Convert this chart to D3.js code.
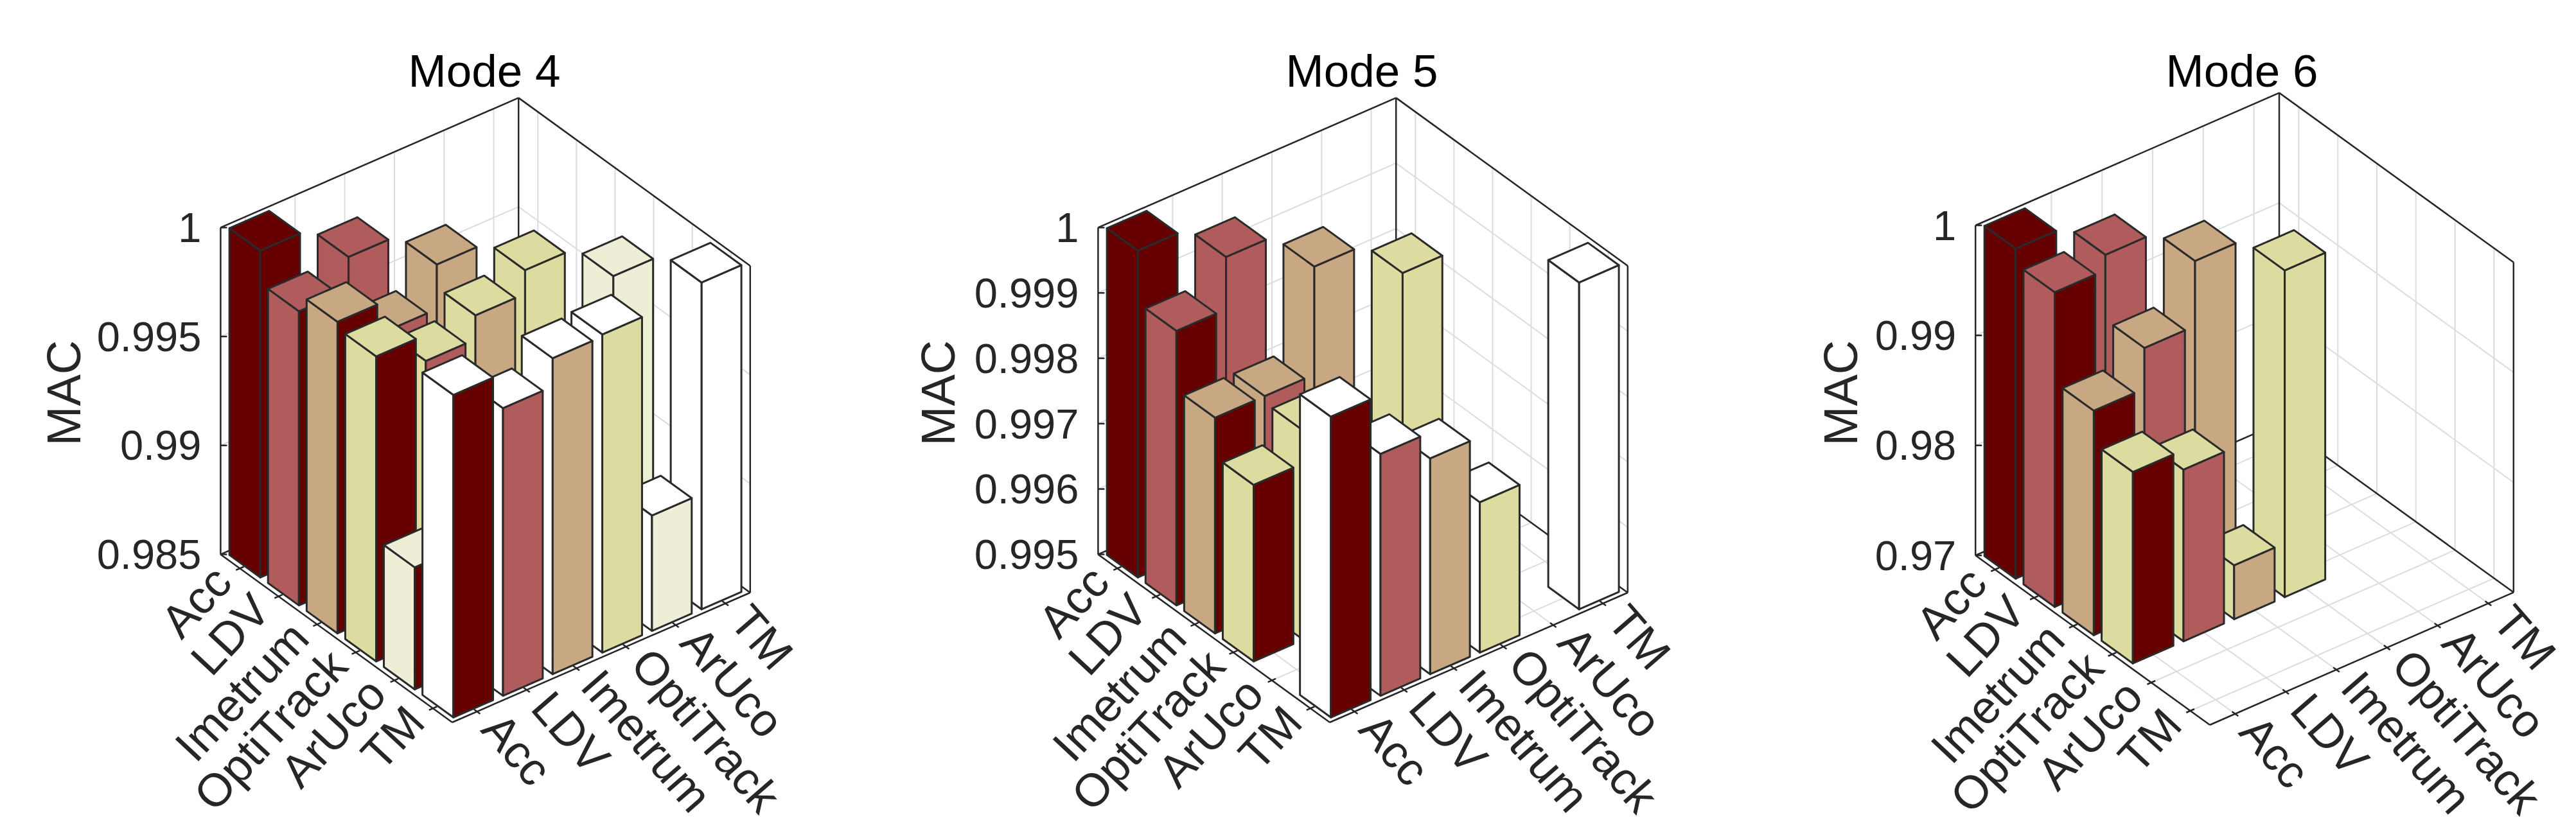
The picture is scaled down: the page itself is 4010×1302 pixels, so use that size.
<!DOCTYPE html>
<html><head><meta charset="utf-8">
<script src="https://cdn.jsdelivr.net/npm/d3@7"></script>
<style>body{margin:0;background:#fff}svg{display:block}text{font-family:"Liberation Sans",Arial,sans-serif;fill:#262626}</style>
</head><body>
<script>
const categories = ["Acc","LDV","Imetrum","OptiTrack","ArUco","TM"];
const titles = ["Mode 4","Mode 5","Mode 6"];
const colors = ["#660000","#b05c5c","#c8a882","#dcdba0","#eeedd6","#ffffff"];
// lower-triangular MAC matrices: rows = left axis, columns = right axis
const mode4 = [
  [1.0000,null,null,null,null,null],
  [0.9985,1.0000,null,null,null,null],
  [0.9993,0.9979,0.99995,null,null,null],
  [0.9990,0.9978,0.9989,0.99998,null,null],
  [0.9906,0.9905,0.9910,0.9908,1.0000,null],
  [0.9998,0.9982,0.9995,0.9996,0.9903,1.0000]];
const mode5 = [
  [1.0000,null,null,null,null,null],
  [0.9992,1.0000,null,null,null,null],
  [0.9983,0.9983,0.99995,null,null,null],
  [0.9977,0.9982,0.9975,0.99995,null,null],
  [null,null,null,null,null,null],
  [0.9996,0.9987,0.9983,0.9973,null,1.0000]];
const mode6 = [
  [1.0000,null,null,null,null,null],
  [0.9986,1.0000,null,null,null,null],
  [0.9904,0.9941,1.0000,null,null,null],
  [0.9874,0.9856,0.9749,0.9997,null,null],
  [null,null,null,null,null,null],
  [null,null,null,null,null,null]];
const zTicks4 = [0.985,0.99,0.995,1];
const zTicks5 = [0.995,0.996,0.997,0.998,0.999,1];
const zTicks6 = [0.97,0.98,0.99,1];
const zTickLabels4 = ["0.985","0.99","0.995","1"];
const zTickLabels5 = ["0.995","0.996","0.997","0.998","0.999","1"];
const zTickLabels6 = ["0.97","0.98","0.99","1"];

const panels = [
  {data:mode4, ticks:zTicks4, labels:zTickLabels4, zlim:[0.985,1], Fx:704, Fy:1125, ux:77.3, uy:-33.67, vx:-60.1, vy:-43.6, H:509, macX:99},
  {data:mode5, ticks:zTicks5, labels:zTickLabels5, zlim:[0.995,1], Fx:2070, Fy:1125, ux:77.3, uy:-33.67, vx:-60.1, vy:-43.6, H:509, macX:1460},
  {data:mode6, ticks:zTicks6, labels:zTickLabels6, zlim:[0.97,1], Fx:3440, Fy:1129, ux:78.8, uy:-34.4, vx:-60.8, vy:-44.0, H:514, macX:2865}
];

const W=4010, Hh=1302;
const svg = d3.select("body").append("svg").attr("width",W).attr("height",Hh);
const colBand = d3.scaleBand().domain(categories).range([0,6]).paddingInner(0.2).paddingOuter(0.1);
const rowBand = d3.scaleBand().domain(categories.slice().reverse()).range([0,6]).paddingInner(0.2).paddingOuter(0.1);
const FS = 65, FC = 72;

panels.forEach((p,pi)=>{
  const g = svg.append("g");
  const zs = d3.scaleLinear().domain(p.zlim).range([0,p.H]);
  const P = (u,v,z)=>[p.Fx+u*p.ux+v*p.vx, p.Fy+u*p.uy+v*p.vy-zs(z)];
  const line = (a,b,c,w)=>g.append("line").attr("x1",a[0]).attr("y1",a[1]).attr("x2",b[0]).attr("y2",b[1]).attr("stroke",c).attr("stroke-width",w);
  const z0=p.zlim[0], z1=p.zlim[1];
  const gridC="#dcdcdc";
  categories.forEach(c=>{
    const u=colBand(c)+colBand.bandwidth()/2, v=rowBand(c)+rowBand.bandwidth()/2;
    line(P(u,0,z0),P(u,6,z0),gridC,2);
    line(P(0,v,z0),P(6,v,z0),gridC,2);
    line(P(u,6,z0),P(u,6,z1),gridC,2);
    line(P(6,v,z0),P(6,v,z1),gridC,2);
  });
  p.ticks.forEach(t=>{
    line(P(0,6,t),P(6,6,t),gridC,2);
    line(P(6,6,t),P(6,0,t),gridC,2);
  });
  const bc="#262626";
  [[P(0,6,z0),P(0,6,z1)],[P(6,6,z0),P(6,6,z1)],[P(6,0,z0),P(6,0,z1)],
   [P(0,6,z1),P(6,6,z1)],[P(6,6,z1),P(6,0,z1)],[P(0,6,z0),P(6,6,z0)],[P(6,6,z0),P(6,0,z0)],
   [P(0,6,z0),P(0,0,z0)],[P(0,0,z0),P(6,0,z0)]].forEach(s=>line(s[0],s[1],bc,2.5));
  p.ticks.forEach((t,i)=>{
    const a=P(0,6,t);
    line(a,[a[0]+10,a[1]],bc,2.5);
    g.append("text").attr("x",a[0]-30).attr("y",a[1]).attr("dy","0.35em").attr("text-anchor","end").attr("font-size",FS).text(p.labels[i]);
  });
  categories.forEach(c=>{
    const v=rowBand(c)+rowBand.bandwidth()/2;
    line(P(0.08,v,z0),P(-0.08,v,z0),bc,2.5);
    const l=P(-0.35,v-0.3,z0);
    g.append("text").attr("transform",`translate(${l[0]},${l[1]}) rotate(-47)`).attr("text-anchor","end").attr("font-size",FC).text(c);
  });
  categories.forEach(c=>{
    const u=colBand(c)+colBand.bandwidth()/2;
    line(P(u,0.08,z0),P(u,-0.08,z0),bc,2.5);
    const l=P(u-0.3,-0.45,z0);
    g.append("text").attr("transform",`translate(${l[0]},${l[1]}) rotate(49)`).attr("text-anchor","start").attr("font-size",FC).text(c);
  });
  const bars=[];
  p.data.forEach((row,i)=>row.forEach((val,j)=>{
    if(val==null||val<=z0) return;
    const u0=colBand(categories[j]), v0=rowBand(categories[i]);
    bars.push({i,j,val:Math.min(val,z1),u0,v0,d:u0+v0});
  }));
  bars.sort((a,b)=>b.d-a.d);
  const poly=(pts,fill)=>g.append("polygon").attr("points",pts.map(q=>q.join(",")).join(" ")).attr("fill",fill).attr("stroke","#2a2a2a").attr("stroke-width",3).attr("stroke-linejoin","round");
  const bw=colBand.bandwidth();
  bars.forEach(b=>{
    const u0=b.u0,u1=b.u0+bw,v0=b.v0,v1=b.v0+bw,z=b.val;
    poly([P(u0,v0,z0),P(u0,v1,z0),P(u0,v1,z),P(u0,v0,z)],colors[b.i]);
    poly([P(u0,v0,z0),P(u1,v0,z0),P(u1,v0,z),P(u0,v0,z)],colors[b.j]);
    poly([P(u0,v0,z),P(u1,v0,z),P(u1,v1,z),P(u0,v1,z)],colors[b.i]);
  });
  g.append("text").attr("x",p.Fx+50).attr("y",135).attr("text-anchor","middle").attr("font-size",71).style("fill","#000").text(titles[pi]);
  g.append("text").attr("transform",`translate(${p.macX},612) rotate(-90)`).attr("dy","0.35em").attr("text-anchor","middle").attr("font-size",74).text("MAC");
});
</script>
</body></html>
